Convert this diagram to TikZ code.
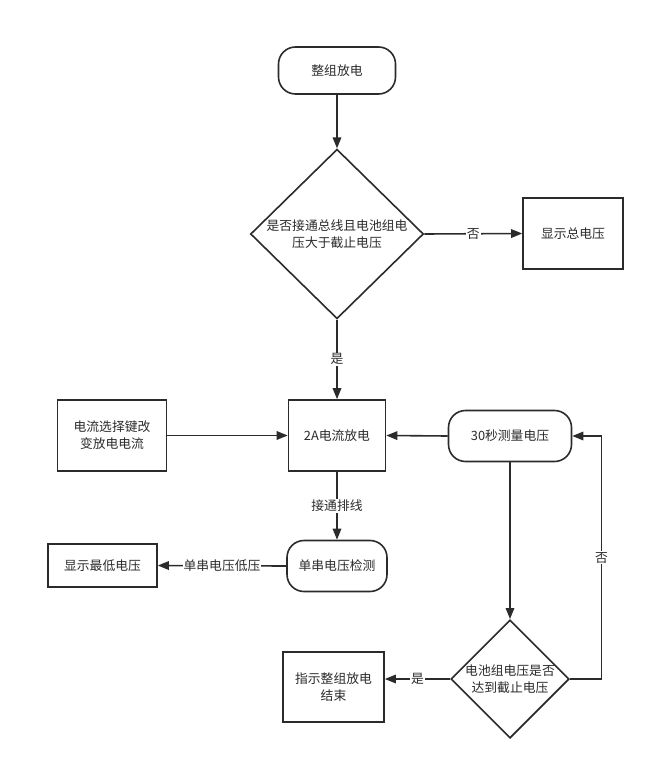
\documentclass[tikz,border=0pt]{standalone}
\usepackage{fontspec}
\setmainfont{Noto Sans CJK SC}
\usetikzlibrary{shapes.geometric,arrows.meta,positioning}
\definecolor{ink}{HTML}{2B2B2B}
\tikzset{
  base/.style={draw=ink, line width=1.6pt, text=ink, align=center, inner sep=0pt,
    font=\fontsize{12.8}{17}\selectfont},
  box/.style={base, rectangle},
  rbox/.style={base, rectangle, rounded corners=17pt},
  dia/.style={base, diamond},
  conn/.style={draw=ink, line width=1.6pt, -{Triangle[length=11pt,width=8.5pt]}},
  lab/.style={fill=white, text=ink, inner sep=1pt, font=\fontsize{12.8}{17}\selectfont}
}
\begin{document}
\begin{tikzpicture}[x=1pt,y=-1pt]
\useasboundingbox (0,0) rectangle (655,767);
\fill[white] (0,0) rectangle (655,767);

\node[rbox, minimum width=117pt, minimum height=47pt] (start) at (337,70.5) {整组放电};
\node[dia, minimum width=173pt, minimum height=165pt] (d1) at (337,234) {是否接通总线且电池组电\\压大于截止电压};
\node[box, minimum width=100pt, minimum height=71pt] (disp) at (573,233.5) {显示总电压};
\node[box, minimum width=97pt, minimum height=71pt] (dis) at (337,435.5) {2A电流放电};
\node[box, minimum width=109pt, minimum height=71pt] (sel) at (112,435.5) {电流选择键改\\变放电电流};
\node[rbox, minimum width=123pt, minimum height=51pt] (m30) at (510,436) {30秒测量电压};
\node[rbox, minimum width=100pt, minimum height=51pt] (single) at (337,566) {单串电压检测};
\node[box, minimum width=109pt, minimum height=43pt] (low) at (102.5,565.5) {显示最低电压};
\node[dia, minimum width=117pt, minimum height=112pt] (d2) at (510,679) {电池组电压是否\\达到截止电压};
\node[box, minimum width=101pt, minimum height=70pt] (fin) at (333.5,687) {指示整组放电\\结束};
\coordinate (rt) at (601.5,679);

\draw[conn] (start.south) -- (d1.north);
\draw[conn] (d1.east) -- node[lab]{否} (disp.west);
\draw[conn] (d1.south) -- node[lab]{是} (dis.north);
\draw[conn] (sel.east) -- (dis.west);
\draw[conn] (m30.west) -- (dis.east);
\draw[conn] (dis.south) -- node[lab]{接通排线} (single.north);
\draw[conn] (single.west) -- node[lab]{单串电压低压} (low.east);
\draw[conn] (m30.south) -- (d2.north);
\draw[conn] (d2.west) -- node[lab]{是} (d2.west -| fin.east);
\draw[conn] (d2.east) -- (rt) -- node[lab]{否} (rt |- m30.east) -- (m30.east);
\end{tikzpicture}
\end{document}
